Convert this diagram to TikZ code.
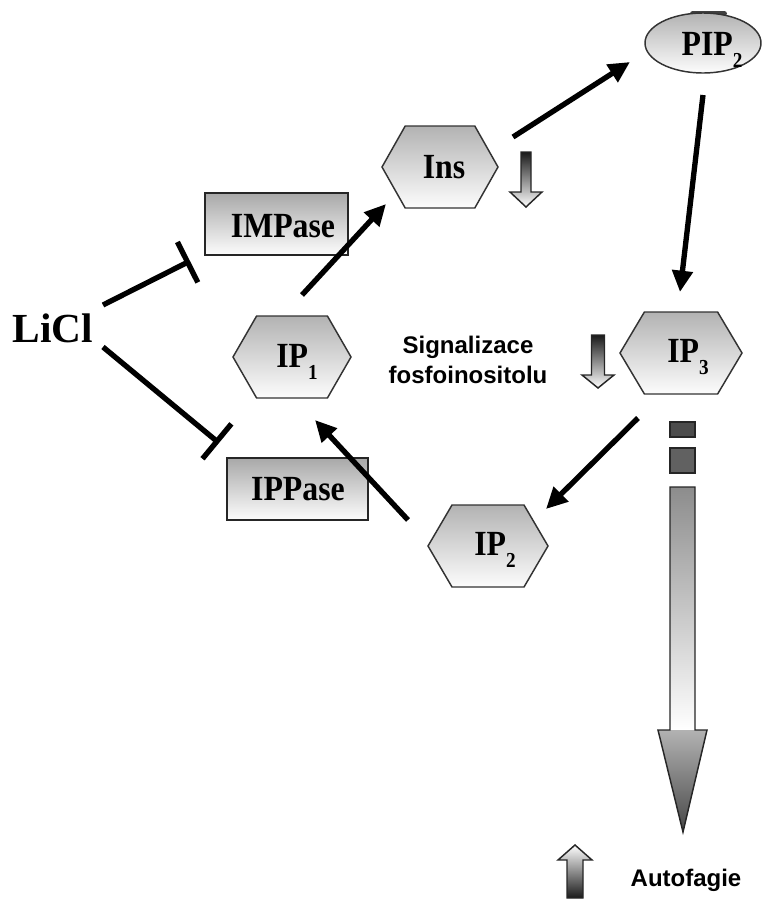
\documentclass[tikz,border=0pt]{standalone}
\usepackage{fontspec}
\setmainfont{Liberation Serif}
\setsansfont{Liberation Sans}
\newfontfamily\lbf[FakeStretch=0.9]{Liberation Serif}
\usetikzlibrary{arrows.meta,shapes.geometric}
\newcommand\sbsc[1]{\raisebox{-0.34em}{\fontsize{16}{16}\selectfont #1}}
\newcommand\hexa[4]{% cx, cy, half width, half height
  \draw[hexst] (#1-#3,#2) -- (#1-0.6*#3,#2-#4) -- (#1+0.6*#3,#2-#4) -- (#1+#3,#2)
    -- (#1+0.6*#3,#2+#4) -- (#1-0.6*#3,#2+#4) -- cycle;}
\begin{document}
\begin{tikzpicture}[x=0.75pt,y=-0.75pt,
  hexst/.style={draw=black!80,line width=1.1pt,top color=black!30,bottom color=black!1},
  boxst/.style={draw=black!85,line width=1.4pt,top color=black!34,bottom color=black!1},
  lbl/.style={font=\lbf\fontsize{26.5}{30}\selectfont\bfseries,inner sep=0pt,anchor=base},
  sans/.style={font=\sffamily\bfseries\fontsize{18}{22}\selectfont,inner sep=0pt,align=center},
  arr/.style={line width=4pt,-{Triangle[length=16pt,width=15pt]}},
  inh/.style={line width=4pt,-{Bar[width=34pt]}},
  blk/.style={draw=black!85,line width=1.1pt},
]
\useasboundingbox (0,0) rectangle (765,900);

% PIP2
\fill[black!75,rounded corners=2pt] (690,11) rectangle (727,16);
\draw[hexst] (703,43) ellipse [x radius=58, y radius=30];
\node[lbl] (pip2) at (712,55) {PIP\sbsc{2}};

% hexagons
\hexa{440}{167}{58}{41}
\node[lbl] (ins) at (444,178) {Ins};
\hexa{292}{357}{59}{41}
\node[lbl] (ip1) at (297,367) {IP\sbsc{1}};
\hexa{681}{353}{61}{41}
\node[lbl] (ip3) at (688,362) {IP\sbsc{3}};
\hexa{488}{546}{60}{41}
\node[lbl] (ip2) at (495,555) {IP\sbsc{2}};

% enzyme boxes
\draw[boxst] (205,193) rectangle (348,255);
\node[lbl] (impase) at (283,237) {IMPase};
\draw[boxst] (227,458) rectangle (368,520);
\node[lbl] (ippase) at (298,500) {IPPase};

% LiCl
\node[font=\fontsize{31}{36}\selectfont\bfseries,inner sep=0pt,anchor=base] (licl) at (53,342) {LiCl};

% texts
\node[sans] (sig) at (468,360) {Signalizace\\fosfoinositolu};
\node[font=\sffamily\bfseries\fontsize{18}{22}\selectfont,inner sep=0pt,anchor=base] (auto) at (686,886) {Autofagie};

% connector coordinates
\coordinate (a1s) at (302,295); \coordinate (a1e) at (386,204);
\coordinate (a2s) at (513,137); \coordinate (a2e) at (630,62);
\coordinate (a3s) at (703,95);  \coordinate (a3e) at (680,292);
\coordinate (a4s) at (638,418); \coordinate (a4e) at (546,509);
\coordinate (a5s) at (408,520); \coordinate (a5e) at (315,420);
\coordinate (i1s) at (103,305); \coordinate (i1e) at (190,261);
\coordinate (i2s) at (103,347); \coordinate (i2e) at (219,443);

\draw[arr] (a1s) -- (a1e);
\draw[arr] (a2s) -- (a2e);
\draw[arr] (a3s) -- (a3e);
\draw[arr] (a4s) -- (a4e);
\draw[arr] (a5s) -- (a5e);
\draw[inh] (i1s) -- (i1e);
\draw[inh] (i2s) -- (i2e);

% small down arrows
\path[top color=black!90,bottom color=white]
  (521,152) -- (531,152) -- (531,192) -- (542,192) -- (526,207) -- (510,192) -- (521,192) -- cycle;
\draw[blk] (521,152) -- (531,152) -- (531,192) -- (542,192) -- (526,207) -- (510,192) -- (521,192) -- cycle;
\path[top color=black!90,bottom color=white]
  (591.5,335) -- (604.5,335) -- (604.5,375) -- (614,375) -- (598,388) -- (582,375) -- (591.5,375) -- cycle;
\draw[blk] (591.5,335) -- (604.5,335) -- (604.5,375) -- (614,375) -- (598,388) -- (582,375) -- (591.5,375) -- cycle;

% small up arrow (Autofagie)
\path[top color=white,bottom color=black!90]
  (567,898) -- (583,898) -- (583,860) -- (592,860) -- (575,845) -- (558,860) -- (567,860) -- cycle;
\draw[blk] (567,898) -- (583,898) -- (583,860) -- (592,860) -- (575,845) -- (558,860) -- (567,860) -- cycle;

% big arrow from IP3
\draw[blk,fill=black!70] (670,422) rectangle (695,437);
\draw[blk,fill=black!62] (670,448) rectangle (695,473);
\shade[top color=black!45,bottom color=white] (670,487) rectangle (695,730);
\shade[top color=black!30,bottom color=black!72] (658,730) -- (707,730) -- (683,832) -- cycle;
\draw[blk] (670,487) -- (695,487) -- (695,730) -- (707,730) -- (683,832) -- (658,730) -- (670,730) -- cycle;
\end{tikzpicture}
\end{document}
